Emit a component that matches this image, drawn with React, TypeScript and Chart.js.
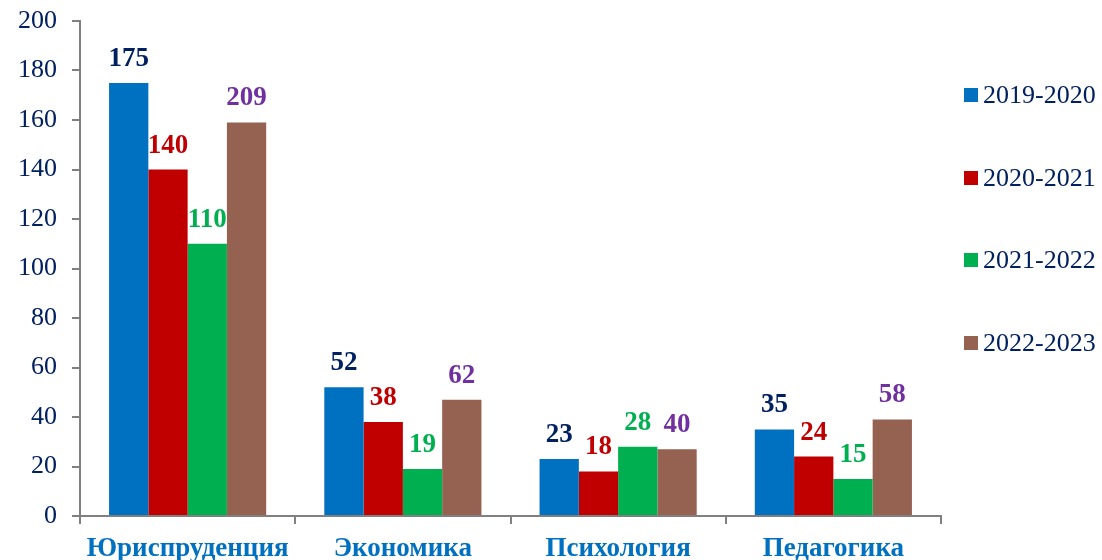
import React, { useEffect, useRef } from 'react';
import { Chart, registerables } from 'chart.js';

Chart.register(...registerables);

const categories = ['Юриспруденция', 'Экономика', 'Психология', 'Педагогика'];
const seriesNames = ['2019-2020', '2020-2021', '2021-2022', '2022-2023'];

// bar heights as drawn
const bars2019 = [175, 52, 23, 35];
const bars2020 = [140, 38, 18, 24];
const bars2021 = [110, 19, 28, 15];
const bars2022 = [159, 47, 27, 39];

// value labels as printed above the bars
const labels2019 = [175, 52, 23, 35];
const labels2020 = [140, 38, 18, 24];
const labels2021 = [110, 19, 28, 15];
const labels2022 = [209, 62, 40, 58];

const yMin = 0;
const yMax = 200;
const yStep = 20;

const barColors = ['#0070C0', '#C00000', '#00B050', '#956251'];
const labelColors = ['#002060', '#C00000', '#00B050', '#7030A0'];

const barSeries = [bars2019, bars2020, bars2021, bars2022];
const labelSeries = [labels2019, labels2020, labels2021, labels2022];

const FONT = '"Liberation Serif", "Times New Roman", serif';
const NAVY = '#002060';
const AXIS = '#808080';

const valueLabelPlugin = {
  id: 'valueLabels',
  afterDatasetsDraw(chart: any) {
    const ctx = chart.ctx;
    ctx.save();
    ctx.font = `bold 27px ${FONT}`;
    ctx.textAlign = 'center';
    ctx.textBaseline = 'alphabetic';
    chart.data.datasets.forEach((_ds: any, i: number) => {
      const meta = chart.getDatasetMeta(i);
      meta.data.forEach((el: any, j: number) => {
        ctx.fillStyle = labelColors[i];
        ctx.fillText(String(labelSeries[i][j]), el.x, el.y - 17);
      });
    });
    ctx.restore();
  },
};

export default function App() {
  const canvasRef = useRef<HTMLCanvasElement | null>(null);

  useEffect(() => {
    if (!canvasRef.current) return;
    const chart = new Chart(canvasRef.current, {
      type: 'bar',
      data: {
        labels: categories,
        datasets: seriesNames.map((name, i) => ({
          label: name,
          data: barSeries[i],
          backgroundColor: barColors[i],
          borderWidth: 0,
          categoryPercentage: 0.73,
          barPercentage: 1,
        })),
      },
      options: {
        animation: false,
        responsive: true,
        maintainAspectRatio: false,
        layout: { padding: { top: 21, right: 161, bottom: 0, left: 0 } },
        plugins: {
          legend: { display: false },
          tooltip: { enabled: false },
        },
        scales: {
          x: {
            grid: {
              drawOnChartArea: false,
              offset: true,
              drawTicks: true,
              tickLength: 8,
              color: AXIS,
              lineWidth: 2,
            },
            border: { display: true, color: AXIS, width: 2 },
            ticks: {
              padding: 9,
              color: '#0070C0',
              font: { family: FONT, size: 27, weight: 'bold' },
              maxRotation: 0,
              autoSkip: false,
            },
            afterFit: (s: any) => {
              s.height = 44;
            },
          },
          y: {
            min: yMin,
            max: yMax,
            grid: {
              drawOnChartArea: false,
              drawTicks: true,
              tickLength: 8,
              color: AXIS,
              lineWidth: 2,
            },
            border: { display: true, color: AXIS, width: 2 },
            ticks: {
              stepSize: yStep,
              padding: 15,
              color: NAVY,
              font: { family: FONT, size: 26 },
            },
            afterFit: (s: any) => {
              s.width = 80;
              s.paddingTop = 0;
              s.paddingBottom = 0;
            },
          },
        },
      },
      plugins: [valueLabelPlugin],
    });
    return () => chart.destroy();
  }, []);

  return (
    <div style={{ position: 'absolute', left: 0, top: 0, width: 1102, height: 560, background: '#fff' }}>
      <div style={{ position: 'absolute', left: 0, top: 0, width: 1102, height: 560 }}>
        <canvas ref={canvasRef} />
      </div>
      <div style={{ position: 'absolute', left: 964, top: 82 }}>
        {seriesNames.map((name, i) => (
          <div
            key={name}
            style={{
              display: 'flex',
              alignItems: 'center',
              height: 26,
              marginBottom: 56.7,
              fontFamily: FONT,
              fontSize: 26,
              lineHeight: '26px',
              color: NAVY,
              whiteSpace: 'nowrap',
            }}
          >
            <span style={{ display: 'inline-block', width: 14, height: 14, background: barColors[i], marginRight: 5 }} />
            <span>{name}</span>
          </div>
        ))}
      </div>
    </div>
  );
}
